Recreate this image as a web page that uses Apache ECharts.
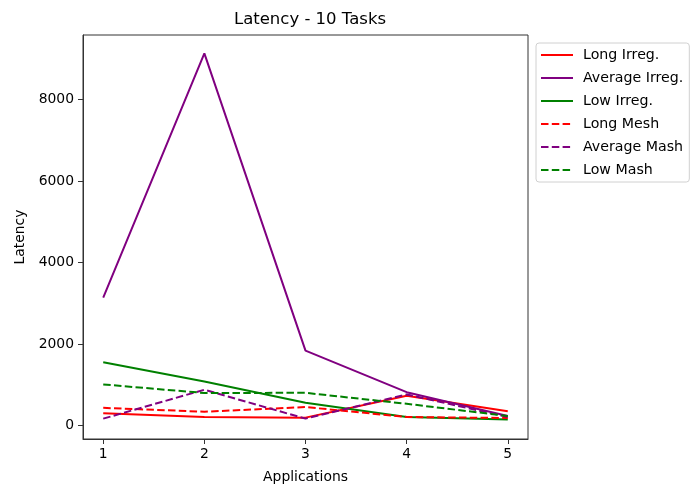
<!DOCTYPE html>
<html>
<head>
<meta charset="utf-8">
<script src="https://cdn.jsdelivr.net/npm/echarts@6/dist/echarts.min.js"></script>
<style>
  html, body { margin: 0; padding: 0; background: #fff; }
  #chart { width: 695px; height: 491px; }
</style>
</head>
<body>
<div id="chart"></div>
<script>
// x positions (applications) and y ticks
const applications = [1, 2, 3, 4, 5];
const yTicks = [0, 2000, 4000, 6000, 8000];

// latency values
const longIrreg = [295, 205, 190, 730, 345];
const averageIrreg = [3140, 9140, 1835, 815, 230];
const lowIrreg = [1550, 1080, 555, 205, 145];
const longMesh = [430, 335, 450, 205, 180];
const averageMash = [165, 875, 165, 760, 205];
const lowMash = [1005, 795, 800, 530, 230];

const fontFamily = 'DejaVu Sans';

function pairs(values) {
    return applications.map((x, i) => [x, values[i]]);
}

function lineSeries(name, values, color, dashed) {
    return {
        name: name,
        type: 'line',
        data: pairs(values),
        symbol: 'none',
        smooth: false,
        animation: false,
        lineStyle: {
            color: color,
            width: 2,
            type: dashed ? [7.5, 3.3] : 'solid'
        },
        itemStyle: { color: color }
    };
}

const chart = echarts.init(document.getElementById('chart'));

chart.setOption({
    animation: false,
    title: {
        text: 'Latency - 10 Tasks',
        left: 305,
        textAlign: 'center',
        top: 6,
        textStyle: { fontFamily: fontFamily, fontSize: 16.5, fontWeight: 'normal', color: '#000' }
    },
    grid: {
        left: 83,
        top: 35,
        right: 167,
        bottom: 52,
        show: true,
        borderColor: '#333',
        borderWidth: 1,
        backgroundColor: '#fff'
    },
    legend: {
        orient: 'vertical',
        left: 536,
        top: 43,
        padding: [5, 6, 5, 4],
        itemWidth: 32,
        itemHeight: 14,
        itemGap: 9,
        borderColor: '#d0d0d0',
        borderWidth: 1,
        borderRadius: 3,
        backgroundColor: '#fff',
        itemStyle: { opacity: 0 },
        textStyle: { fontFamily: fontFamily, fontSize: 14.2, color: '#000', padding: [0, 0, 0, 5] },
        data: ['Long Irreg.', 'Average Irreg.', 'Low Irreg.', 'Long Mesh', 'Average Mash', 'Low Mash']
    },
    xAxis: {
        type: 'value',
        min: 0.8,
        max: 5.2,
        name: 'Applications',
        nameLocation: 'middle',
        nameGap: 31,
        nameTextStyle: { fontFamily: fontFamily, fontSize: 13.9, color: '#000' },
        splitLine: { show: false },
        axisLine: { show: true, onZero: false, lineStyle: { color: '#333', width: 1 } },
        axisTick: { show: true, inside: false, length: 5, customValues: applications, lineStyle: { color: '#333' } },
        axisLabel: { customValues: applications, margin: 8, fontFamily: fontFamily, fontSize: 13.9, color: '#000' }
    },
    yAxis: {
        type: 'value',
        min: -335,
        max: 9590,
        name: 'Latency',
        nameLocation: 'middle',
        nameGap: 54,
        nameTextStyle: { fontFamily: fontFamily, fontSize: 13.9, color: '#000' },
        splitLine: { show: false },
        axisLine: { show: true, onZero: false, lineStyle: { color: '#333', width: 1 } },
        axisTick: { show: true, inside: false, length: 5, customValues: yTicks, lineStyle: { color: '#333' } },
        axisLabel: {
            customValues: yTicks,
            margin: 9,
            fontFamily: fontFamily,
            fontSize: 13.9,
            color: '#000',
            formatter: value => String(value)
        }
    },
    series: [
        lineSeries('Long Irreg.', longIrreg, '#ff0000', false),
        lineSeries('Average Irreg.', averageIrreg, '#800080', false),
        lineSeries('Low Irreg.', lowIrreg, '#008000', false),
        lineSeries('Long Mesh', longMesh, '#ff0000', true),
        lineSeries('Average Mash', averageMash, '#800080', true),
        lineSeries('Low Mash', lowMash, '#008000', true)
    ]
});
</script>
</body>
</html>
